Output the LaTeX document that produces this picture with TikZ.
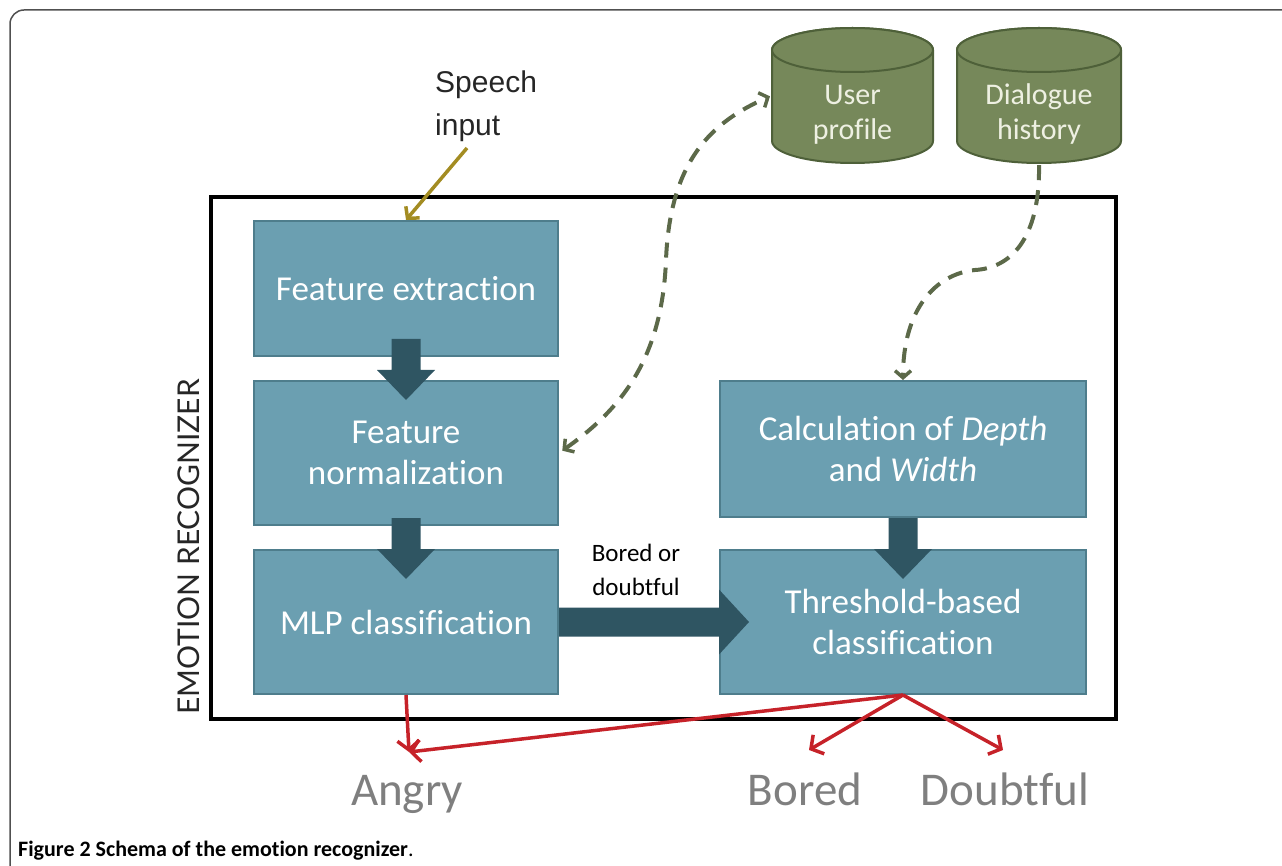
\documentclass[tikz,border=0pt]{standalone}
\usepackage{fontspec}
\setmainfont{Carlito}[Ligatures=NoCommon]
\newfontfamily\arialf{Liberation Sans}
\newfontfamily\latof{Lato}
\usetikzlibrary{arrows.meta,calc}
\definecolor{boxfill}{HTML}{6B9FB1}
\definecolor{boxline}{HTML}{4E7D8C}
\definecolor{blk}{HTML}{2F5562}
\definecolor{cylfill}{HTML}{76885A}
\definecolor{cylline}{HTML}{4E6039}
\definecolor{cyltext}{HTML}{EEF0E2}
\definecolor{dashcol}{HTML}{5C6949}
\definecolor{speechcol}{HTML}{A38C22}
\definecolor{redcol}{HTML}{C62229}
\definecolor{graytext}{HTML}{7F7F7F}
\definecolor{framegray}{HTML}{505050}
\begin{document}
\begin{tikzpicture}[x=1pt,y=1pt,
  procbox/.style={draw=boxline, line width=2pt, fill=boxfill, text=white,
    font=\fontsize{35}{41}\selectfont, align=center, inner sep=0pt},
  cylbody/.style={fill=cylfill, draw=cylline, line width=2pt},
  cyltxt/.style={text=cyltext, font=\fontsize{30}{35}\selectfont, align=center, inner sep=0pt},
  dashconn/.style={draw=dashcol, line width=4pt, dash pattern=on 15pt off 10pt,
    arrows={Straight Barb[length=7pt,width=16pt,line width=3.5pt]-Straight Barb[length=7pt,width=16pt,line width=3.5pt]}},
  dashone/.style={draw=dashcol, line width=4pt, dash pattern=on 15pt off 10pt,
    -{Straight Barb[length=7pt,width=16pt,line width=3.5pt]}},
  speecharrow/.style={draw=speechcol, line width=3.5pt, -{Straight Barb[length=8pt,width=18pt,line width=3.5pt]}},
  redarrow/.style={draw=redcol, line width=3.5pt, -{Straight Barb[length=9pt,width=22pt,line width=3.5pt]}},
  outlabel/.style={text=graytext, font=\fontsize{47}{50}\selectfont, anchor=base, inner sep=0pt},
  pics/bdown/.style={code={\fill[blk] (-14.5,0) -- (14.5,0) -- (14.5,-31) -- (29,-31) -- (0,-61) -- (-29,-31) -- (-14.5,-31) -- cycle;}},
  pics/bright/.style={code={\fill[blk] (0,14.5) -- (160,14.5) -- (160,32.5) -- (190,0) -- (160,-32.5) -- (160,-14.5) -- (0,-14.5) -- cycle;}}
]
\useasboundingbox (0,0) rectangle (1282,-866);
% outer figure frame
\draw[framegray, line width=1.5pt, rounded corners=14pt] (10,-866) -- (10,-10) -- (1282,-10);

% main frame
\node[draw, line width=3.5pt, minimum width=905pt, minimum height=522pt, inner sep=0pt] (frame) at (663.5,-458) {};
\node[rotate=90, font=\latof\fontsize{30}{32}\selectfont, text=black!85] (emo) at (189,-547) {EMOTION RECOGNIZER};

% process boxes
\node[procbox, minimum width=304pt, minimum height=135pt] (fe) at (406,-288.5) {Feature extraction};
\node[procbox, minimum width=304pt, minimum height=144pt] (fn) at (406,-453) {Feature\\normalization};
\node[procbox, minimum width=304pt, minimum height=144pt] (mlp) at (406,-622) {MLP classification};
\node[procbox, minimum width=366pt, minimum height=136pt] (cdw) at (903,-449) {Calculation of \textit{Depth}\\and \textit{Width}};
\node[procbox, minimum width=366pt, minimum height=144pt] (thr) at (903,-622) {Threshold-based\\classification};

% block arrows
\pic at ($(fe.south)+(0,18)$) {bdown};
\pic at ($(fn.south)+(0,8)$) {bdown};
\pic at ($(cdw.south)+(0,0)$) {bdown};
\pic at (mlp.east) {bright};
\node[font=\fontsize{25}{34}\selectfont, align=center, text=black, inner sep=0pt] (bod) at (636,-570) {Bored or\\doubtful};

% cylinders
\filldraw[cylbody] (772,-50) -- (772,-141) arc (180:360:80.5 and 22) -- (933,-50) arc (0:180:80.5 and 22) -- cycle;
\draw[cylbody] (852.5,-50) ellipse (80.5 and 22);
\node[minimum width=161pt, minimum height=135pt, inner sep=0pt] (up) at (852.5,-95.5) {};
\node[cyltxt] (uptxt) at ($(up.center)+(0,-19)$) {User\\profile};

\filldraw[cylbody] (957,-50) -- (957,-141) arc (180:360:82 and 22) -- (1121,-50) arc (0:180:82 and 22) -- cycle;
\draw[cylbody] (1039,-50) ellipse (82 and 22);
\node[minimum width=164pt, minimum height=135pt, inner sep=0pt] (dh) at (1039,-95.5) {};
\node[cyltxt] (dhtxt) at ($(dh.center)+(0,-19)$) {Dialogue\\history};

% dashed connectors
\draw[dashconn, shorten <=4pt, shorten >=2pt] (fn.east) .. controls (620,-410) and (662,-360) .. (666,-260) .. controls (670,-160) and (712,-122) .. (up.west);
\draw[dashone, shorten <=2pt] (dh.south) .. controls (1040,-240) and (1010,-268) .. (975,-270) .. controls (935,-274) and (903,-310) .. (cdw.north);

% speech input
\node[anchor=north west, font=\arialf\fontsize{30}{43}\selectfont, align=left, inner sep=0pt, text=black!85] (speech) at (435,-71) {Speech\\input};
\coordinate (spfoot) at (467,-148);
\draw[speecharrow] (spfoot) -- (fe.north);

% outputs
\coordinate (angtip) at (409,-752);
\coordinate (bortip) at (809,-750);
\coordinate (doutip) at (1003,-750);
\draw[redarrow] (mlp.south) -- (angtip);
\draw[redarrow] (thr.south) -- (angtip);
\draw[redarrow] (thr.south) -- (bortip);
\draw[redarrow] (thr.south) -- (doutip);
\node[outlabel] (angry) at (407,-805) {Angry};
\node[outlabel] (bored) at (805,-805) {Bored};
\node[outlabel] (doubt) at (1005,-805) {Doubtful};

% caption
\node[anchor=base west, font=\fontsize{22}{24}\selectfont, inner sep=0pt] (cap) at (18,-856) {\textbf{Figure 2 Schema of the emotion recognizer}.};
\end{tikzpicture}
\end{document}
